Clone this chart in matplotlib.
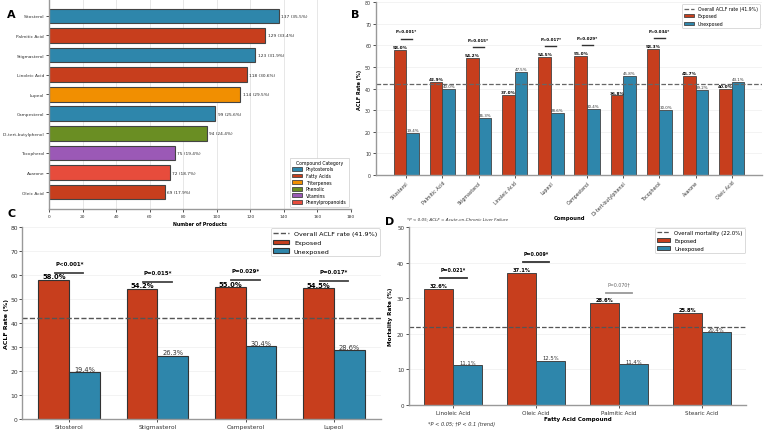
import numpy as np
import matplotlib.pyplot as plt
from matplotlib.patches import Patch

# Colores por categoria
cat_colors = {'Phytosterols': '#2E86AB', 'Fatty Acids': '#C73E1D', 'Triterpenes': '#F18F01',
              'Phenolic': '#6A8E23', 'Vitamins': '#9B59B6', 'Phenylpropanoids': '#E74C3C'}
c_exp = '#C73E1D'
c_unexp = '#2E86AB'

# ---------------- Datos panel A ----------------
a_compounds = ['Sitosterol', 'Palmitic Acid', 'Stigmasterol', 'Linoleic Acid', 'Lupeol',
               'Campesterol', 'Di-tert-butylphenol', 'Tocopherol', 'Asarone', 'Oleic Acid']
a_counts = [137, 129, 123, 118, 114, 99, 94, 75, 72, 69]
a_categories = ['Phytosterols', 'Fatty Acids', 'Phytosterols', 'Fatty Acids', 'Triterpenes',
                'Phytosterols', 'Phenolic', 'Vitamins', 'Phenylpropanoids', 'Fatty Acids']
n_total = 386

# ---------------- Datos panel B ----------------
b_compounds = ['Sitosterol', 'Palmitic Acid', 'Stigmasterol', 'Linoleic Acid', 'Lupeol',
               'Campesterol', 'Di-tert-butylphenol', 'Tocopherol', 'Asarone', 'Oleic Acid']
b_exposed = [58.0, 42.9, 54.2, 37.0, 54.5, 55.0, 36.8, 58.3, 45.7, 40.0]
b_unexposed = [19.4, 40.0, 26.3, 47.5, 28.6, 30.4, 45.8, 30.0, 39.2, 43.1]
b_pvals = ['P<0.001*', None, 'P=0.015*', None, 'P=0.017*', 'P=0.029*', None, 'P=0.034*', None, None]
aclf_overall = 41.9

# ---------------- Datos panel C ----------------
c_compounds = ['Sitosterol', 'Stigmasterol', 'Campesterol', 'Lupeol']
c_exposed = [58.0, 54.2, 55.0, 54.5]
c_unexposed = [19.4, 26.3, 30.4, 28.6]
c_pvals = ['P<0.001*', 'P=0.015*', 'P=0.029*', 'P=0.017*']

# ---------------- Datos panel D ----------------
d_compounds = ['Linoleic Acid', 'Oleic Acid', 'Palmitic Acid', 'Stearic Acid']
d_exposed = [32.6, 37.1, 28.6, 25.8]
d_unexposed = [11.1, 12.5, 11.4, 20.4]
d_pvals = ['P=0.021*', 'P=0.009*', 'P=0.070\u2020', None]
mort_overall = 22.0

W, H = 765, 431


def rect(l, t, r, b):
    return [l / W, 1 - b / H, (r - l) / W, (b - t) / H]


def style_axes(ax, fs):
    for s in ['top', 'right']:
        ax.spines[s].set_visible(False)
    for s in ['left', 'bottom']:
        ax.spines[s].set_color('#999999')
        ax.spines[s].set_linewidth(1.0)
    ax.tick_params(labelsize=fs, length=2, width=0.6, pad=1.5, colors='#333333')
    ax.set_axisbelow(True)


fig = plt.figure(figsize=(7.65, 4.31), dpi=100)
fig.patch.set_facecolor('white')

# ---------------- Panel A ----------------
axA = fig.add_axes(rect(49, 0, 351, 210))
yA = np.arange(len(a_compounds))
axA.barh(yA, a_counts, height=0.75, color=[cat_colors[c] for c in a_categories],
         edgecolor='#444444', linewidth=0.8)
for y, v in zip(yA, a_counts):
    axA.text(v + 1.5, y, f'{v} ({v / n_total * 100:.1f}%)', va='center', fontsize=3.1, color='#222222')
axA.set_yticks(yA)
axA.set_yticklabels(a_compounds)
axA.invert_yaxis()
axA.set_xlim(0, 180)
axA.set_xticks(range(0, 181, 20))
axA.grid(axis='x', color='#dddddd', linewidth=0.5)
style_axes(axA, 3.2)
axA.set_xlabel('Number of Products', fontsize=3.4, fontweight='bold', labelpad=2)
handles = [Patch(facecolor=col, edgecolor='#444444', linewidth=0.6, label=k) for k, col in cat_colors.items()]
legA = axA.legend(handles=handles, title='Compound Category', loc='lower right', fontsize=3.3,
                  title_fontsize=3.3, handlelength=2.2, handleheight=0.9, borderpad=0.5,
                  labelspacing=0.35, framealpha=1, edgecolor='#cccccc')
legA.get_frame().set_linewidth(0.5)

# ---------------- Panel B ----------------
axB = fig.add_axes(rect(376, 3, 762, 176))
xB = np.arange(len(b_compounds))
wB = 0.35
axB.axhline(aclf_overall, color='#666666', linestyle='--', linewidth=0.9,
            label=f'Overall ACLF rate ({aclf_overall}%)')
axB.bar(xB - wB / 2, b_exposed, wB, color=c_exp, edgecolor='#444444', linewidth=0.6, label='Exposed')
axB.bar(xB + wB / 2, b_unexposed, wB, color=c_unexp, edgecolor='#444444', linewidth=0.6, label='Unexposed')
for x, e, u, p in zip(xB, b_exposed, b_unexposed, b_pvals):
    axB.text(x - wB / 2, e + 0.4, f'{e}%', ha='center', va='bottom', fontsize=3.1, fontweight='bold')
    axB.text(x + wB / 2, u + 0.4, f'{u}%', ha='center', va='bottom', fontsize=2.9, color='#333333')
    if p:
        axB.plot([x - 0.15, x + 0.15], [e + 5, e + 5], color='#333333', linewidth=1.0)
        axB.text(x, e + 7.5, p, ha='center', va='bottom', fontsize=2.9, fontweight='bold')
axB.set_ylim(0, 80)
axB.set_xticks(xB)
axB.set_xticklabels(b_compounds, rotation=45, ha='right', rotation_mode='anchor')
axB.grid(axis='y', color='#eeeeee', linewidth=0.5)
style_axes(axB, 3.4)
axB.set_ylabel('ACLF Rate (%)', fontsize=3.6, fontweight='bold', labelpad=2)
axB.set_xlabel('Compound', fontsize=3.8, fontweight='bold')
axB.xaxis.set_label_coords(0.5, -0.23)
legB = axB.legend(loc='upper right', fontsize=3.3, handlelength=2.2, framealpha=1, edgecolor='#cccccc')
legB.get_frame().set_linewidth(0.5)
fig.text(407 / W, 1 - 219 / H, '*P < 0.05; ACLF = Acute-on-Chronic Liver Failure',
         fontsize=3.0, style='italic', va='center', color='#333333')

# ---------------- Panel C ----------------
axC = fig.add_axes(rect(22, 228, 381, 420))
xC = np.arange(len(c_compounds))
wC = 0.35
axC.axhline(aclf_overall, color='#555555', linestyle='--', linewidth=1.0,
            label=f'Overall ACLF rate ({aclf_overall}%)')
axC.bar(xC - wC / 2, c_exposed, wC, color=c_exp, edgecolor='#333333', linewidth=0.8, label='Exposed')
axC.bar(xC + wC / 2, c_unexposed, wC, color=c_unexp, edgecolor='#333333', linewidth=0.8, label='Unexposed')
for x, e, u, p in zip(xC, c_exposed, c_unexposed, c_pvals):
    axC.text(x - wC / 2, e + 0.2, f'{e}%', ha='center', va='bottom', fontsize=4.9, fontweight='bold')
    axC.text(x + wC / 2, u + 0.2, f'{u}%', ha='center', va='bottom', fontsize=4.8, color='#333333')
    axC.plot([x - 0.16, x + 0.16], [e + 3, e + 3], color='#444444', linewidth=1.3)
    axC.text(x, e + 5.8, p, ha='center', va='bottom', fontsize=3.9, fontweight='bold')
axC.set_ylim(0, 80)
axC.set_xticks(xC)
axC.set_xticklabels(c_compounds)
axC.grid(axis='y', color='#eeeeee', linewidth=0.5)
style_axes(axC, 4.3)
axC.tick_params(axis='y', pad=1)
axC.set_ylabel('ACLF Rate (%)', fontsize=4.5, fontweight='bold', labelpad=0.6)
legC = axC.legend(loc='upper right', fontsize=4.6, handlelength=2.4, framealpha=1,
                  edgecolor='#cccccc', borderaxespad=0.2)
legC.get_frame().set_linewidth(0.5)

# ---------------- Panel D ----------------
axD = fig.add_axes(rect(409, 228, 746, 406))
xD = np.arange(len(d_compounds))
wD = 0.35
axD.axhline(mort_overall, color='#555555', linestyle='--', linewidth=0.9,
            label=f'Overall mortality ({mort_overall}%)')
axD.bar(xD - wD / 2, d_exposed, wD, color=c_exp, edgecolor='#444444', linewidth=0.7, label='Exposed')
axD.bar(xD + wD / 2, d_unexposed, wD, color=c_unexp, edgecolor='#444444', linewidth=0.7, label='Unexposed')
for x, e, u, p in zip(xD, d_exposed, d_unexposed, d_pvals):
    axD.text(x - wD / 2, e + 0.2, f'{e}%', ha='center', va='bottom', fontsize=3.7, fontweight='bold')
    axD.text(x + wD / 2, u + 0.2, f'{u}%', ha='center', va='bottom', fontsize=3.8, color='#333333')
    if p:
        trend = p.endswith('\u2020')
        col = '#999999' if trend else '#333333'
        axD.plot([x - 0.16, x + 0.16], [e + 3, e + 3], color=col, linewidth=1.3)
        axD.text(x, e + 4.8, p, ha='center', va='bottom', fontsize=3.4,
                 fontweight='normal' if trend else 'bold', color='#666666' if trend else 'black')
axD.set_ylim(0, 50)
axD.set_xticks(xD)
axD.set_xticklabels(d_compounds)
axD.grid(axis='y', color='#eeeeee', linewidth=0.5)
style_axes(axD, 4.1)
axD.set_ylabel('Mortality Rate (%)', fontsize=4.1, fontweight='bold', labelpad=3)
axD.set_xlabel('Fatty Acid Compound', fontsize=4.1, fontweight='bold', labelpad=1)
legD = axD.legend(loc='upper right', fontsize=3.9, handlelength=2.4, framealpha=1,
                  edgecolor='#cccccc', borderaxespad=0.2)
legD.get_frame().set_linewidth(0.5)
fig.text(428 / W, 1 - 425 / H, '*P < 0.05; \u2020P < 0.1 (trend)', fontsize=3.6,
         style='italic', va='center', color='#333333')

# Letras de los paneles
for lab, x, y in [('A', 7, 15), ('B', 351, 15), ('C', 7, 214), ('D', 385, 222)]:
    fig.text(x / W, 1 - y / H, lab, fontsize=8, fontweight='bold', va='center')

fig.savefig('out.png', dpi=100)
